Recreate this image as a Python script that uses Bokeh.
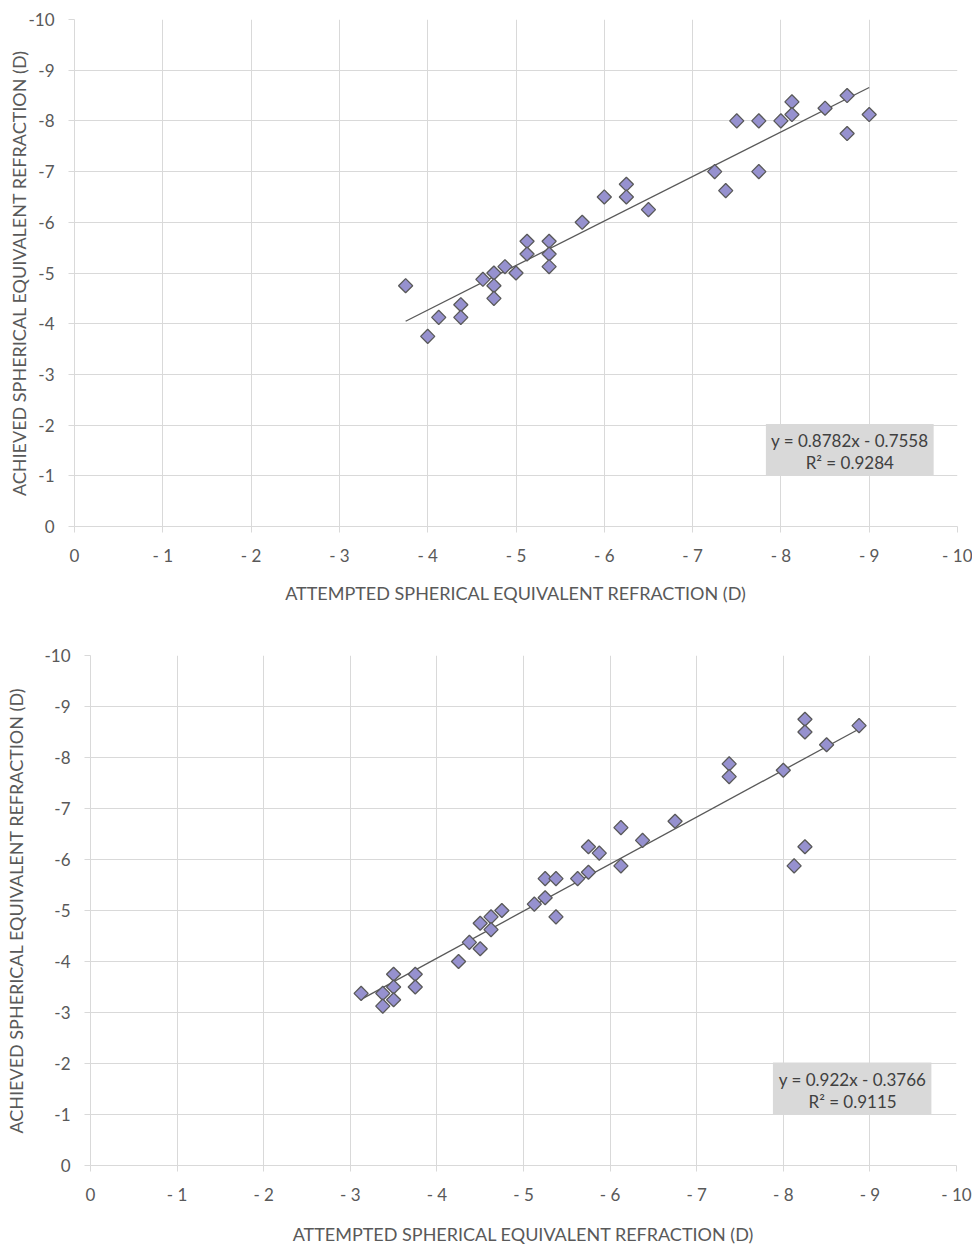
import numpy as np
from bokeh.plotting import figure
from bokeh.models import Range1d, FixedTicker, ColumnDataSource
from bokeh.embed import file_html
from bokeh.resources import INLINE
from bokeh.core.properties import value

# ---------------- data ----------------
top_attempted = [-3.75, -4.0, -4.125, -4.375, -4.375, -4.625, -4.75, -4.75, -4.75,
                 -4.875, -5.0, -5.125, -5.125, -5.375, -5.375, -5.375, -5.75, -6.0,
                 -6.25, -6.25, -6.5, -7.25, -7.375, -7.5, -7.75, -7.75, -8.0, -8.125,
                 -8.125, -8.5, -8.75, -8.75, -9.0]
top_achieved = [-4.75, -3.75, -4.125, -4.375, -4.125, -4.875, -5.0, -4.75, -4.5,
                -5.125, -5.0, -5.625, -5.375, -5.625, -5.375, -5.125, -6.0, -6.5,
                -6.75, -6.5, -6.25, -7.0, -6.625, -8.0, -8.0, -7.0, -8.0, -8.375,
                -8.125, -8.25, -8.5, -7.75, -8.125]
top_slope, top_intercept = 0.8782, -0.7558
top_equation = "y = 0.8782x - 0.7558"
top_r2 = "R² = 0.9284"

bottom_attempted = [-3.125, -3.375, -3.375, -3.5, -3.5, -3.5, -3.75, -3.75, -4.25,
                    -4.375, -4.5, -4.5, -4.625, -4.625, -4.75, -5.125, -5.25, -5.25,
                    -5.375, -5.375, -5.625, -5.75, -5.75, -5.875, -6.125, -6.125,
                    -6.375, -6.75, -7.375, -7.375, -8.0, -8.125, -8.25, -8.25, -8.25,
                    -8.5, -8.875]
bottom_achieved = [-3.375, -3.375, -3.125, -3.75, -3.5, -3.25, -3.75, -3.5, -4.0,
                   -4.375, -4.25, -4.75, -4.875, -4.625, -5.0, -5.125, -5.625, -5.25,
                   -5.625, -4.875, -5.625, -5.75, -6.25, -6.125, -5.875, -6.625,
                   -6.375, -6.75, -7.875, -7.625, -7.75, -5.875, -6.25, -8.75, -8.5,
                   -8.25, -8.625]
bottom_slope, bottom_intercept = 0.922, -0.3766
bottom_equation = "y = 0.922x - 0.3766"
bottom_r2 = "R² = 0.9115"

ticks = [0, -1, -2, -3, -4, -5, -6, -7, -8, -9, -10]
x_tick_labels = ["0", "- 1", "- 2", "- 3", "- 4", "- 5", "- 6", "- 7", "- 8", "- 9", "- 10"]
y_tick_labels = ["0", "-1", "-2", "-3", "-4", "-5", "-6", "-7", "-8", "-9", "-10"]
x_title = "ATTEMPTED SPHERICAL EQUIVALENT REFRACTION (D)"
y_title = "ACHIEVED SPHERICAL EQUIVALENT REFRACTION (D)"

FONT = "Lato"
GRID = "#d9d9d9"
TXT = "#595959"


def make_panel(xs, ys, slope, intercept, eq, r2, height, bl, br, bt, bb,
               ylab_standoff, xlab_standoff, box, eq_pos):
    p = figure(width=972, height=height, output_backend="svg", toolbar_location=None,
               x_range=Range1d(0, -10), y_range=Range1d(0, -10),
               min_border_left=bl, min_border_right=br, min_border_top=bt,
               min_border_bottom=bb)
    p.outline_line_color = None
    p.background_fill_color = "white"
    for ax, labels, title in ((p.xaxis[0], x_tick_labels, x_title),
                              (p.yaxis[0], y_tick_labels, y_title)):
        ax.ticker = FixedTicker(ticks=ticks)
        ax.major_label_overrides = {t: l for t, l in zip(ticks, labels)}
        ax.axis_label = title
        ax.axis_label_text_font = FONT
        ax.axis_label_text_font_style = "normal"
        ax.axis_label_text_font_size = "18px"
        ax.axis_label_text_color = TXT
        ax.major_label_text_font = FONT
        ax.major_label_text_font_size = "17px"
        ax.major_label_text_color = TXT
        ax.axis_line_color = GRID
        ax.major_tick_line_color = GRID
        ax.major_tick_out = 6
        ax.major_tick_in = 0
        ax.minor_tick_line_color = None
    p.xaxis.major_label_standoff = 12
    p.yaxis.major_label_standoff = 14
    p.xaxis.axis_label_standoff = xlab_standoff
    p.yaxis.axis_label_standoff = ylab_standoff
    for g in (p.xgrid[0], p.ygrid[0]):
        g.ticker = FixedTicker(ticks=ticks)
        g.grid_line_color = GRID
        g.grid_line_width = 1

    # trend line
    x0, x1 = max(xs), min(xs)
    tx = np.array([x0, x1])
    p.line(tx, slope * tx + intercept, line_color="#595959", line_width=1.3)

    p.scatter(xs, ys, marker="square", size=10, angle=np.pi / 4,
              fill_color="#9691CF", line_color="#595959", line_width=1.3)

    # equation box
    p.quad(left=[box[0]], right=[box[1]], bottom=[box[2]], top=[box[3]],
           fill_color=GRID, line_color=None)
    src = ColumnDataSource(dict(x=[eq_pos[0], eq_pos[0]], y=[eq_pos[1], eq_pos[2]],
                                t=[eq, r2]))
    p.text("x", "y", text="t", source=src, text_font=value(FONT),
           text_font_size="17px", text_color="#404040", text_align="center",
           text_baseline="middle")
    return p


p1 = make_panel(top_attempted, top_achieved, top_slope, top_intercept,
                top_equation, top_r2, height=612, bl=74, br=15, bt=19, bb=86,
                ylab_standoff=-5, xlab_standoff=13,
                box=(-7.83, -9.73, -1.01, -2.02), eq_pos=(-8.78, -1.70, -1.27))
p2 = make_panel(bottom_attempted, bottom_achieved, bottom_slope, bottom_intercept,
                bottom_equation, bottom_r2, height=635, bl=90, br=16, bt=43, bb=81,
                ylab_standoff=14, xlab_standoff=15,
                box=(-7.88, -9.71, -1.0, -2.02), eq_pos=(-8.80, -1.68, -1.25))

open("out.html", "w").write(file_html([p1, p2], INLINE))
